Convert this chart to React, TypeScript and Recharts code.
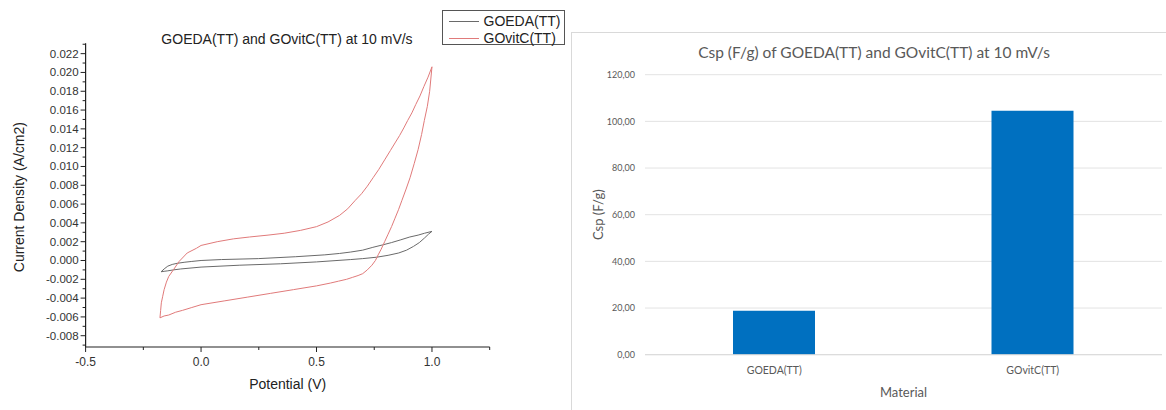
import React from 'react';
import { LineChart, Line, XAxis, YAxis, BarChart, Bar, CartesianGrid } from 'recharts';

// ---------- CV curves (Potential V, Current density A/cm2) ----------
const goedaV = [-0.173, -0.16, -0.144, -0.125, -0.104, -0.07, -0.04, 0.0, 0.088, 0.248, 0.408, 0.536, 0.6, 0.648, 0.7, 0.744, 0.785, 0.824, 0.865, 0.904, 0.94, 0.968, 1.0,
  0.985, 0.968, 0.945, 0.92, 0.89, 0.856, 0.81, 0.76, 0.7, 0.648, 0.5, 0.344, 0.168, 0.0, -0.088, -0.12, -0.144, -0.16, -0.173];
const goedaJ = [-0.0012, -0.0009, -0.0006, -0.00042, -0.0003, -0.00018, -0.0001, 0.0, 0.0001, 0.0002, 0.0004, 0.0006, 0.00075, 0.0009, 0.0011, 0.0014, 0.00165, 0.0019, 0.0022, 0.0025, 0.0027, 0.0029, 0.0031,
  0.0028, 0.0024, 0.0019, 0.0015, 0.0011, 0.0008, 0.00055, 0.00035, 0.0002, 0.0001, -0.00015, -0.00035, -0.0005, -0.0007, -0.0009, -0.001, -0.0011, -0.00115, -0.0012];

const govitcV = [-0.178, -0.175, -0.172, -0.166, -0.16, -0.15, -0.14, -0.12, -0.095, -0.06, -0.02, 0.0, 0.07, 0.14, 0.21, 0.29, 0.36, 0.43, 0.5, 0.55, 0.6, 0.635, 0.668, 0.695, 0.72, 0.745, 0.77, 0.795, 0.82, 0.84, 0.86, 0.878, 0.895, 0.913, 0.93, 0.948, 0.965, 0.983, 1.0,
  0.995, 0.99, 0.98, 0.967, 0.955, 0.94, 0.923, 0.905, 0.888, 0.87, 0.855, 0.84, 0.825, 0.81, 0.795, 0.78, 0.767, 0.755, 0.74, 0.72, 0.7, 0.68, 0.655, 0.63, 0.595, 0.56, 0.5, 0.45, 0.4, 0.3, 0.2, 0.1, 0.0, -0.04, -0.08, -0.11, -0.14, -0.16, -0.178];
const govitcJ = [-0.0061, -0.0053, -0.0045, -0.0038, -0.0031, -0.0023, -0.0017, -0.001, -0.0001, 0.0008, 0.0013, 0.0016, 0.002, 0.0023, 0.0025, 0.0027, 0.0029, 0.0032, 0.0036, 0.0041, 0.0048, 0.0055, 0.0064, 0.0071, 0.0079, 0.0088, 0.0097, 0.0107, 0.0117, 0.0125, 0.0133, 0.0141, 0.0149, 0.0157, 0.0166, 0.0175, 0.0185, 0.0195, 0.0206,
  0.0193, 0.018, 0.0164, 0.0149, 0.0134, 0.0118, 0.0103, 0.0088, 0.0076, 0.0064, 0.0054, 0.0045, 0.0036, 0.0028, 0.002, 0.0012, 0.0006, 0.0, -0.0005, -0.001, -0.0014, -0.0016, -0.0018, -0.002, -0.0022, -0.0024, -0.0027, -0.0029, -0.0031, -0.0035, -0.0039, -0.0043, -0.0047, -0.005, -0.0053, -0.0055, -0.0058, -0.0059, -0.0061];

const cvXTicks = [-0.5, -0.25, 0, 0.25, 0.5, 0.75, 1.0, 1.25];
const cvYTicks = [-0.009, -0.008, -0.007, -0.006, -0.005, -0.004, -0.003, -0.002, -0.001, 0.0, 0.001, 0.002, 0.003, 0.004, 0.005,
  0.006, 0.007, 0.008, 0.009, 0.01, 0.011, 0.012, 0.013, 0.014, 0.015, 0.016, 0.017, 0.018, 0.019, 0.02, 0.021, 0.022, 0.023];
const cvSeriesNames = ['GOEDA(TT)', 'GOvitC(TT)'];

// ---------- Bar chart ----------
const materials = ['GOEDA(TT)', 'GOvitC(TT)'];
const cspValues = [18.8, 104.6];
const barYTicks = [0, 20, 40, 60, 80, 100, 120];

const goedaData = goedaV.map((v, i) => ({ v, j: goedaJ[i] }));
const govitcData = govitcV.map((v, i) => ({ v, j: govitcJ[i] }));
const barData = materials.map((name, i) => ({ name, csp: cspValues[i] }));

const ARIAL = '"Liberation Sans", Arial, sans-serif';
const CAL = 'Lato, "Open Sans", sans-serif';
const GRAY_LINE = '#6a6a6a';
const RED_LINE = '#e07a7a';

const CvYTick = (props: any) => {
  const { x, y, payload } = props;
  const k = Math.round(payload.value * 1000);
  const major = k % 2 === 0;
  const len = major ? 5 : 3;
  return (
    <g>
      <line x1={x} x2={x - len} y1={y} y2={y} stroke="#222" strokeWidth={1} />
      {major && (
        <text x={x - 7} y={y} textAnchor="end" dominantBaseline="central" fontSize={11.5} fill="#333" fontFamily={ARIAL}>
          {(k / 1000).toFixed(3)}
        </text>
      )}
    </g>
  );
};

const CvXTick = (props: any) => {
  const { x, y, payload } = props;
  const k = Math.round(payload.value * 100);
  const major = k % 50 === 0;
  const len = major ? 5 : 3;
  return (
    <g>
      <line x1={x} x2={x} y1={y} y2={y + len} stroke="#222" strokeWidth={1} />
      {major && (
        <text x={x} y={y + 15} textAnchor="middle" dominantBaseline="central" fontSize={12} fill="#333" fontFamily={ARIAL}>
          {(k / 100).toFixed(1)}
        </text>
      )}
    </g>
  );
};

export default function App() {
  return (
    <div style={{ position: 'absolute', left: 0, top: 0, width: 1166, height: 410, background: '#fff', overflow: 'hidden' }}>
      {/* Left CV chart */}
      <div style={{ position: 'absolute', left: 0, top: 0 }}>
        <LineChart width={580} height={410} margin={{ top: 43.3, right: 90.3, bottom: 33, left: 25.6 }}>
          <XAxis
            type="number"
            dataKey="v"
            domain={[-0.5, 1.25]}
            allowDataOverflow
            ticks={cvXTicks}
            interval={0}
            tickSize={0}
            tickMargin={0}
            tickLine={false}
            height={30}
            axisLine={{ stroke: '#222', strokeWidth: 1.2 }}
            tick={<CvXTick />}
            label={{
              content: (p: any) => {
                const vb = p.viewBox;
                return (
                  <text x={vb.x + vb.width / 2} y={vb.y + 37} textAnchor="middle" dominantBaseline="central" fontSize={14} fill="#222" fontFamily={ARIAL}>
                    Potential (V)
                  </text>
                );
              },
            }}
          />
          <YAxis
            type="number"
            dataKey="j"
            domain={[-0.0092, 0.0231]}
            allowDataOverflow
            ticks={cvYTicks}
            interval={0}
            tickSize={0}
            tickMargin={0}
            tickLine={false}
            width={60}
            axisLine={{ stroke: '#222', strokeWidth: 1.2 }}
            tick={<CvYTick />}
            label={{
              content: (p: any) => {
                const vb = p.viewBox;
                const cx = vb.x + vb.width - 67;
                const cy = vb.y + vb.height / 2 + 2;
                return (
                  <text x={cx} y={cy} transform={`rotate(-90 ${cx} ${cy})`} textAnchor="middle" dominantBaseline="central" fontSize={14} fill="#222" fontFamily={ARIAL}>
                    Current Density (A/cm2)
                  </text>
                );
              },
            }}
          />
          <Line data={goedaData} dataKey="j" name={cvSeriesNames[0]} type="linear" stroke={GRAY_LINE} strokeWidth={1} dot={false} isAnimationActive={false} />
          <Line data={govitcData} dataKey="j" name={cvSeriesNames[1]} type="linear" stroke={RED_LINE} strokeWidth={1} dot={false} isAnimationActive={false} />
        </LineChart>
      </div>

      {/* Left legend */}
      <div style={{ position: 'absolute', left: 441.5, top: 10, width: 123, height: 35, border: '1px solid #555', boxSizing: 'border-box', background: '#fff' }}>
        {cvSeriesNames.map((n, i) => (
          <div key={n} style={{ position: 'absolute', left: 6, top: i === 0 ? 2 : 19, height: 16, display: 'flex', alignItems: 'center' }}>
            <div style={{ width: 30, height: 0, borderTop: `1px solid ${i === 0 ? GRAY_LINE : RED_LINE}` }} />
            <span style={{ marginLeft: 5, fontFamily: ARIAL, fontSize: 14, color: '#222', lineHeight: '16px' }}>{n}</span>
          </div>
        ))}
      </div>

      {/* Right panel frame */}
      <div style={{ position: 'absolute', left: 571, top: 32, width: 620, height: 400, borderLeft: '1px solid #d9d9d9', borderTop: '1px solid #d9d9d9' }} />

      {/* Right bar chart */}
      <div style={{ position: 'absolute', left: 571, top: 32 }}>
        <BarChart width={595} height={378} data={barData} margin={{ top: 42.7, right: 4, bottom: 25.3, left: 0 }}>
          <CartesianGrid vertical={false} stroke="#e3e3e3" />
          <XAxis
            dataKey="name"
            axisLine={{ stroke: '#d9d9d9' }}
            tickLine={false}
            tickSize={0}
            tickMargin={12}
            height={30}
            tick={{ fontSize: 10.5, fill: '#595959', fontFamily: CAL }}
            label={{
              content: (p: any) => {
                const vb = p.viewBox;
                return (
                  <text x={vb.x + vb.width / 2} y={vb.y + 37} textAnchor="middle" dominantBaseline="central" fontSize={13} fill="#595959" fontFamily={CAL}>
                    Material
                  </text>
                );
              },
            }}
          />
          <YAxis
            domain={[0, 120]}
            ticks={barYTicks}
            interval={0}
            axisLine={false}
            tickLine={false}
            tickSize={0}
            tickMargin={10}
            width={74}
            tickFormatter={(v: number) => v.toFixed(2).replace('.', ',')}
            tick={{ fontSize: 9, fill: '#595959', fontFamily: CAL }}
            label={{
              content: (p: any) => {
                const vb = p.viewBox;
                const cx = vb.x + 27;
                const cy = vb.y + vb.height / 2;
                return (
                  <text x={cx} y={cy} transform={`rotate(-90 ${cx} ${cy})`} textAnchor="middle" dominantBaseline="central" fontSize={13} fill="#595959" fontFamily={CAL}>
                    Csp (F/g)
                  </text>
                );
              },
            }}
          />
          <Bar dataKey="csp" fill="#0070c0" barSize={82} isAnimationActive={false} />
        </BarChart>
      </div>

      {/* Titles */}
      <svg width={1166} height={410} style={{ position: 'absolute', left: 0, top: 0, pointerEvents: 'none' }}>
        <text x={287} y={39} textAnchor="middle" dominantBaseline="central" fontSize={14} fill="#222" fontFamily={ARIAL}>
          GOEDA(TT) and GOvitC(TT) at 10 mV/s
        </text>
        <text x={874} y={52} textAnchor="middle" dominantBaseline="central" fontSize={15.5} fill="#595959" fontFamily={CAL}>
          Csp (F/g) of GOEDA(TT) and GOvitC(TT) at 10 mV/s
        </text>
      </svg>
    </div>
  );
}
